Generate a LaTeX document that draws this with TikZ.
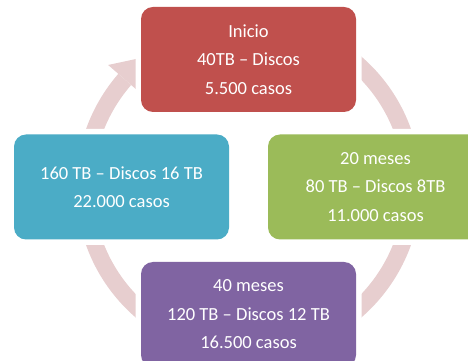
\documentclass[tikz,border=0pt]{standalone}
\usepackage{fontspec}
\setmainfont{Carlito}
\usepackage{xcolor}

\begin{document}
\begin{tikzpicture}[x=1pt, y=1pt,
    box/.style={rounded corners=12pt, minimum width=215pt, minimum height=105pt,
        inner sep=0pt, text=white, align=center,
        font=\fontsize{18.5}{28.5}\selectfont,
        preaction={draw=white, line width=11pt}}]
    % Define colors
    \definecolor{ring}{RGB}{231, 206, 207}
    \definecolor{redbox}{RGB}{192, 80, 77}
    \definecolor{greenbox}{RGB}{155, 187, 89}
    \definecolor{purplebox}{RGB}{128, 100, 162}
    \definecolor{bluebox}{RGB}{75, 172, 198}

    \useasboundingbox (0,0) rectangle (468,361);
    \clip (0,0) rectangle (468,361);

    % Draw the cycle ring with its head
    \begin{scope}[shift={(248.5,174)}]
        \fill[ring] (100:172.5) arc[start angle=100, end angle=-221, radius=172.5]
            -- (139:155.5) arc[start angle=-221, end angle=100, radius=155.5] -- cycle;
        \fill[ring] (139:186) -- (127:164) -- (139:142) -- cycle;
    \end{scope}

    % Draw the stages
    \node[box, fill=redbox] (inicio) at (248.5,301.5) {Inicio\\40TB -- Discos\\5.500 casos};
    \node[box, fill=greenbox] (meses20) at (375.5,174) {20 meses\\80 TB -- Discos 8TB\\11.000 casos};
    \node[box, fill=purplebox] (meses40) at (248.5,46.5) {40 meses\\120 TB -- Discos 12 TB\\16.500 casos};
    \node[box, fill=bluebox] (final) at (121.5,174) {160 TB -- Discos 16 TB\\22.000 casos};
\end{tikzpicture}
\end{document}
